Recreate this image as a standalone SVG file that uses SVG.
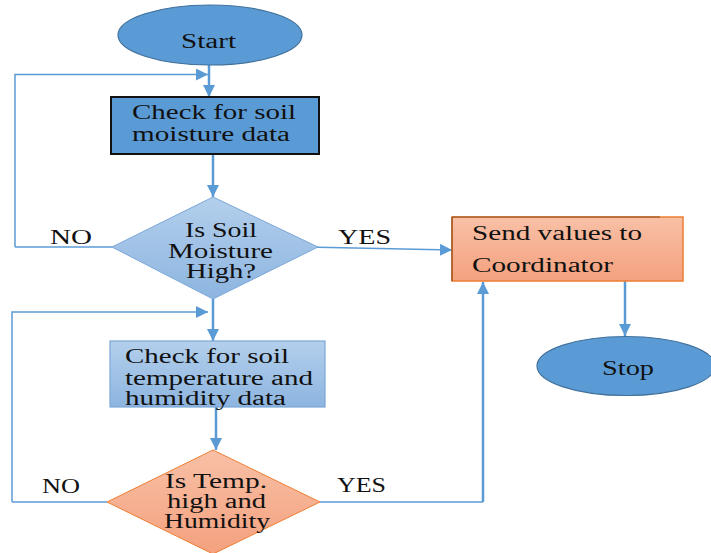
<svg xmlns="http://www.w3.org/2000/svg" width="711" height="553" viewBox="0 0 711 553">
<defs>
<linearGradient id="gBlue" x1="0" y1="0" x2="0" y2="1"><stop offset="0" stop-color="#b3cfec"/><stop offset="1" stop-color="#8db5e0"/></linearGradient>
<linearGradient id="gOrange" x1="0" y1="0" x2="0" y2="1"><stop offset="0" stop-color="#f8c0a6"/><stop offset="1" stop-color="#f4a17e"/></linearGradient>
<marker id="ah" viewBox="0 0 12 12" refX="12" refY="6" markerWidth="12" markerHeight="12" markerUnits="userSpaceOnUse" orient="auto">
<path d="M0,0 L12,6 L0,12 Z" fill="#5b9bd5"/>
</marker>
<style>
text{font-family:"Liberation Serif","Times New Roman",serif;font-size:20px;fill:#111;}
.thick{stroke:#5b9bd5;stroke-width:2.5;fill:none;}
.thin{stroke:#5b9bd5;stroke-width:1.5;fill:none;}
.term{fill:#5b9bd5;stroke:#41719c;stroke-width:1.2;}
</style>
</defs>
<g id="connectors">
<line class="thick" x1="209" y1="64" x2="209" y2="97" marker-end="url(#ah)"/>
<polyline class="thin" points="15,247 15,74.5 208,74.5" marker-end="url(#ah)"/>
<line class="thick" x1="213" y1="154" x2="213" y2="197" marker-end="url(#ah)"/>
<line class="thin" x1="112" y1="247" x2="15" y2="247"/>
<line class="thin" x1="306" y1="247" x2="452" y2="250" marker-end="url(#ah)"/>
<line class="thick" x1="213" y1="299" x2="213" y2="341" marker-end="url(#ah)"/>
<polyline class="thin" points="12,502 12,312 208,312" marker-end="url(#ah)"/>
<line class="thick" x1="216" y1="398" x2="216" y2="450" marker-end="url(#ah)"/>
<line class="thin" x1="107" y1="502" x2="12" y2="502"/>
<polyline class="thin" points="320,502 483,502" />
<line class="thick" x1="483" y1="502" x2="483" y2="282" marker-end="url(#ah)"/>
<line class="thick" x1="625" y1="281" x2="625" y2="336" marker-end="url(#ah)"/>
<text x="50" y="244" textLength="42" lengthAdjust="spacingAndGlyphs">NO</text>
<text x="338" y="244" textLength="53" lengthAdjust="spacingAndGlyphs">YES</text>
<text x="42" y="493" textLength="38" lengthAdjust="spacingAndGlyphs">NO</text>
<text x="337" y="492" textLength="49" lengthAdjust="spacingAndGlyphs">YES</text>
</g>
<g id="start">
<ellipse class="term" cx="210" cy="35" rx="92" ry="30"/>
<text x="181" y="48" textLength="55" lengthAdjust="spacingAndGlyphs">Start</text>
</g>
<g id="check-moisture">
<rect x="111" y="97" width="208" height="57" fill="#5b9bd5" stroke="#111" stroke-width="2"/>
<text x="132" y="119" textLength="164" lengthAdjust="spacingAndGlyphs">Check for soil</text>
<text x="132" y="141" textLength="158" lengthAdjust="spacingAndGlyphs">moisture data</text>
</g>
<g id="moisture-decision">
<polygon points="213,197 318,247 213,299 112,247" fill="url(#gBlue)" stroke="#7aa7d8" stroke-width="1"/>
<text x="185" y="237" textLength="72" lengthAdjust="spacingAndGlyphs">Is Soil</text>
<text x="168" y="258" textLength="105" lengthAdjust="spacingAndGlyphs">Moisture</text>
<text x="186" y="278" textLength="70" lengthAdjust="spacingAndGlyphs">High?</text>
</g>
<g id="send-values">
<rect x="452" y="217" width="231" height="64" fill="url(#gOrange)" stroke="#ed7d31" stroke-width="1.5"/>
<line x1="452" y1="217" x2="452" y2="281" stroke="#8a4a1e" stroke-width="1.2"/>
<line x1="452" y1="217" x2="660" y2="217" stroke="#8a4a1e" stroke-width="1"/>
<text x="472" y="240" textLength="170" lengthAdjust="spacingAndGlyphs">Send values to</text>
<text x="472" y="272" textLength="141" lengthAdjust="spacingAndGlyphs">Coordinator</text>
</g>
<g id="stop">
<ellipse class="term" cx="626" cy="366" rx="89" ry="29.5"/>
<text x="602" y="375" textLength="52" lengthAdjust="spacingAndGlyphs">Stop</text>
</g>
<g id="check-temp">
<rect x="110" y="341" width="215" height="66" fill="url(#gBlue)" stroke="#7aa7d8" stroke-width="1.2"/>
<text x="125" y="363" textLength="164" lengthAdjust="spacingAndGlyphs">Check for soil</text>
<text x="125" y="385" textLength="188" lengthAdjust="spacingAndGlyphs">temperature and</text>
<text x="125" y="405" textLength="161" lengthAdjust="spacingAndGlyphs">humidity data</text>
</g>
<g id="temp-decision">
<polygon points="213,450 320,502 213,554 107,502" fill="url(#gOrange)" stroke="#ed7d31" stroke-width="1"/>
<text x="165" y="488" textLength="102" lengthAdjust="spacingAndGlyphs">Is Temp.</text>
<text x="167" y="508" textLength="99" lengthAdjust="spacingAndGlyphs">high and</text>
<text x="164" y="528" textLength="106" lengthAdjust="spacingAndGlyphs">Humidity</text>
</g>
</svg>
